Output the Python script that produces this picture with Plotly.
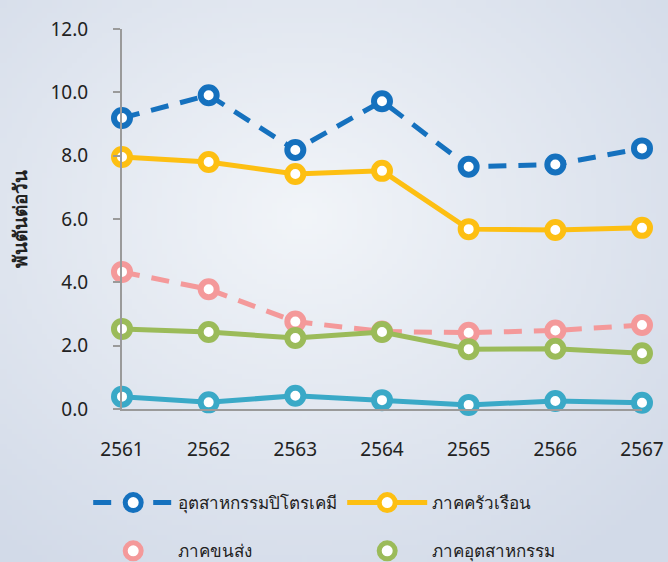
import base64, struct, zlib
import numpy as np
import plotly.graph_objects as go

years = ["2561", "2562", "2563", "2564", "2565", "2566", "2567"]
petrochem = [9.19, 9.91, 8.18, 9.72, 7.65, 7.72, 8.23]
household = [7.96, 7.80, 7.42, 7.52, 5.68, 5.65, 5.72]
transport = [4.33, 3.78, 2.76, 2.45, 2.41, 2.48, 2.65]
industry = [2.53, 2.43, 2.24, 2.43, 1.89, 1.90, 1.76]
other = [0.39, 0.21, 0.42, 0.28, 0.13, 0.25, 0.20]
y_ticks = [0, 2, 4, 6, 8, 10, 12]

W, H = 668, 562
L, R, T, B = 122, 26, 29, 153

# background radial gradient as PNG
def make_png(w, h):
    yy, xx = np.mgrid[0:h, 0:w].astype(float)
    cx, cy = 0.45 * w, 0.38 * h
    d = np.sqrt(((xx - cx) / w) ** 2 + ((yy - cy) / h) ** 2)
    t = np.clip(d / 0.75, 0, 1)
    c0 = np.array([242, 245, 249], float)
    c1 = np.array([210, 218, 232], float)
    img = (c0[None, None, :] * (1 - t[..., None]) + c1[None, None, :] * t[..., None]).astype(np.uint8)
    raw = b"".join(b"\x00" + img[r].tobytes() for r in range(h))
    def chunk(tag, data):
        c = struct.pack(">I", len(data)) + tag + data
        return c + struct.pack(">I", zlib.crc32(tag + data) & 0xffffffff)
    png = b"\x89PNG\r\n\x1a\n" + chunk(b"IHDR", struct.pack(">IIBBBBB", w, h, 8, 2, 0, 0, 0)) \
        + chunk(b"IDAT", zlib.compress(raw, 9)) + chunk(b"IEND", b"")
    return "data:image/png;base64," + base64.b64encode(png).decode()

bg = make_png(134, 112)
pw, ph = W - L - R, H - T - B

font = "Noto Sans, Liberation Sans, sans-serif"

def series(name, y, color, dash, legend, showlegend=True):
    return go.Scatter(
        x=years, y=y, name=name, mode="lines+markers",
        line=dict(color=color, width=5, dash=dash),
        marker=dict(size=16, color="white", line=dict(color=color, width=6)),
        legend=legend, showlegend=showlegend, cliponaxis=False,
    )

fig = go.Figure()
fig.add_trace(series("ภาคอื่นๆ", other, "#3aa9c7", "solid", "legend", False))
fig.add_trace(series("ภาคขนส่ง", transport, "#f4999a", "18px,12px", "legend2", False))
fig.add_trace(series("ภาคอุตสาหกรรม", industry, "#9bbb59", "solid", "legend2", False))
fig.add_trace(series("อุตสาหกรรมปิโตรเคมี", petrochem, "#1571be", "18px,12px", "legend"))
fig.add_trace(series("ภาคครัวเรือน", household, "#fdbf12", "solid", "legend"))
# legend-only marker entries for row 2
for nm, col in [("ภาคขนส่ง", "#f4999a"), ("ภาคอุตสาหกรรม", "#9bbb59")]:
    fig.add_trace(go.Scatter(x=[None], y=[None], name=nm, mode="markers",
                             marker=dict(size=16, color="white", line=dict(color=col, width=6)),
                             legend="legend2"))

fig.update_layout(
    width=W, height=H,
    margin=dict(l=L, r=R, t=T, b=B, autoexpand=False),
    paper_bgcolor="#dfe5ee", plot_bgcolor="rgba(0,0,0,0)",
    font=dict(family=font, size=18, color="#222222"),
    images=[dict(source=bg, xref="paper", yref="paper", x=-L / pw, y=1 + T / ph,
                 sizex=W / pw, sizey=H / ph, sizing="stretch", layer="below",
                 xanchor="left", yanchor="top")],
    xaxis=dict(type="category", range=[0, 6], showgrid=False, zeroline=False,
               showline=True, linecolor="#9a9a9a", linewidth=2, ticks="",
               tickfont=dict(size=19), ticklabelstandoff=22),
    yaxis=dict(range=[0, 12], tickvals=y_ticks, tickformat=".1f", showgrid=False,
               zeroline=False, showline=True, linecolor="#9a9a9a", linewidth=2,
               ticks="outside", ticklen=7, tickwidth=2, tickcolor="#9a9a9a",
               tickfont=dict(size=19), ticklabelstandoff=21,
               title=dict(text="<b>พันตันต่อวัน</b>", font=dict(size=19), standoff=18)),
    legend=dict(orientation="h", x=-0.065, y=-0.2, xanchor="left", yanchor="top",
                entrywidth=159, itemwidth=80, font=dict(size=17), bgcolor="rgba(0,0,0,0)"),
    legend2=dict(orientation="h", x=-0.065, y=-0.327, xanchor="left", yanchor="top",
                 entrywidth=159, itemwidth=80, font=dict(size=17), bgcolor="rgba(0,0,0,0)"),
)

fig.write_html("out.html", config={"displayModeBar": False},
               post_script="document.body.style.margin='0';document.body.style.overflow='hidden';")
